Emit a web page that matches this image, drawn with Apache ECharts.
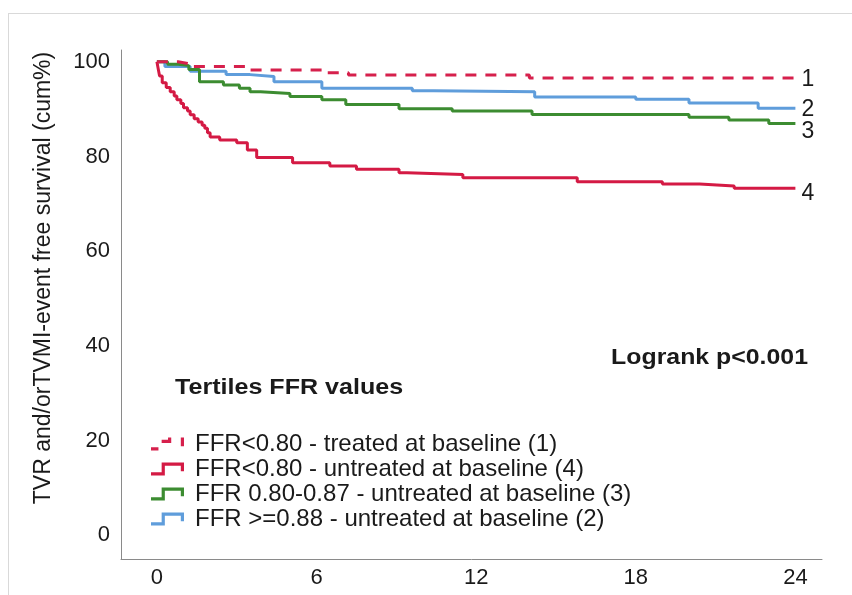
<!DOCTYPE html>
<html>
<head>
<meta charset="utf-8">
<script src="https://cdn.jsdelivr.net/npm/echarts@6/dist/echarts.min.js"></script>
<style>html,body{margin:0;padding:0;background:#fff}#c{width:852px;height:595px}</style>
</head>
<body>
<div id="c"></div>
<script>
// Time in months, survival in cum%
var names = [
  'FFR<0.80 - treated at baseline (1)',
  'FFR<0.80 - untreated at baseline (4)',
  'FFR 0.80-0.87 - untreated at baseline (3)',
  'FFR >=0.88 - untreated at baseline (2)'
];
var endTags = ['1', '4', '3', '2'];
var xTicks = [0, 6, 12, 18, 24];
var yTicks = [0, 20, 40, 60, 80, 100];

var t1 = [0, 0.8, 1.2, 3.5, 6.3, 7.2, 14.0, 24];
var v1 = [100, 99.6, 99.0, 98.3, 97.7, 97.2, 96.6, 96.6];

var t4 = [0, 0.05, 0.1, 0.2, 0.35, 0.5, 0.65, 0.75, 0.9, 1.0, 1.15, 1.25, 1.4, 1.55, 1.7, 1.8, 1.9, 2.0, 2.36, 3.0, 3.4, 3.75, 5.1, 6.5, 7.5, 9.1, 9.4, 11.5, 15.8, 19.0, 20.4, 21.7, 24];
var v4 = [100, 98.5, 97.0, 95.6, 94.6, 93.7, 92.8, 92.0, 91.2, 90.3, 89.6, 88.8, 88.0, 87.3, 86.6, 86.0, 85.0, 84.1, 83.5, 82.9, 81.4, 79.8, 78.7, 78.0, 77.3, 76.6, 76.2, 75.5, 74.7, 74.2, 73.8, 73.3, 73.3];

var t3 = [0, 0.4, 0.8, 1.2, 1.6, 2.5, 3.1, 3.5, 3.9, 5.0, 6.2, 7.1, 9.1, 11.1, 14.1, 20.0, 21.5, 23.0, 24];
var v3 = [100, 99.5, 99.2, 98.4, 95.8, 95.1, 94.4, 93.7, 93.3, 92.7, 92.0, 91.0, 90.1, 89.6, 88.9, 88.3, 87.7, 87.0, 87.0];

var t2 = [0, 0.3, 1.25, 2.6, 3.5, 4.4, 6.2, 9.6, 10.4, 14.2, 18.0, 20.0, 22.6, 24];
var v2 = [100, 99.0, 98.0, 97.3, 96.9, 95.8, 94.4, 93.9, 93.7, 92.6, 92.1, 91.3, 90.2, 90.2];

var colors = ['#d6204c', '#d41a44', '#3c8c31', '#5f9ddb'];

function pairs(t, v) { return t.map(function (x, i) { return [x, v[i]]; }); }
var allT = [t1, t4, t3, t2], allV = [v1, v4, v3, v2];

var FONT = 'Liberation Sans, Arial, sans-serif';
var stepIcon = 'path://M0,10 L10,10 L10,1 L31,1 L31,9 L28,9 L28,4 L13,4 L13,13 L0,13 Z';
var dashIcon = 'path://M0,10 L7,10 L7,13 L0,13 Z M10,3 L16,3 L16,1 L19,1 L19,6 L10,6 Z M28,1 L31,1 L31,9 L28,9 Z M0,1 L0.01,1 L0.01,1.01 Z';

var labelOffsets = [[0, 2], [0, 5], [0, 8], [0, 1]];

var series = names.map(function (n, i) {
  return {
    name: n,
    type: 'line',
    step: 'end',
    showSymbol: false,
    symbol: 'none',
    animation: false,
    data: pairs(allT[i], allV[i]),
    lineStyle: { color: colors[i], width: 3, type: i === 0 ? [11, 9] : 'solid' },
    itemStyle: { color: colors[i] },
    endLabel: {
      show: true, formatter: endTags[i], distance: 6, offset: labelOffsets[i],
      fontFamily: FONT, fontSize: 23, color: '#1a1a1a'
    },
    z: 10 - i
  };
});

var chart = echarts.init(document.getElementById('c'), null, { renderer: 'canvas' });
chart.setOption({
  animation: false,
  backgroundColor: '#fff',
  grid: { left: 121, right: 30, top: 50, bottom: 36 },
  xAxis: {
    type: 'value', min: -1.35, max: 25,
    axisLine: { show: true, onZero: false, lineStyle: { color: '#8a8a8a', width: 1 } },
    axisTick: { show: false },
    splitLine: { show: false },
    axisLabel: { customValues: xTicks, margin: 8, fontFamily: FONT, fontSize: 22, color: '#1a1a1a' }
  },
  yAxis: {
    type: 'value', min: -5, max: 102.5,
    axisLine: { show: true, onZero: false, lineStyle: { color: '#8a8a8a', width: 1 } },
    axisTick: { show: false },
    splitLine: { show: false },
    axisLabel: { customValues: yTicks, margin: 11, fontFamily: FONT, fontSize: 22, color: '#1a1a1a' }
  },
  legend: {
    orient: 'vertical', left: 146, top: 427,
    itemWidth: 33, itemHeight: 14, itemGap: 1,
    textStyle: { fontFamily: FONT, fontSize: 24, color: '#1a1a1a', padding: [0, 0, 0, 6] },
    data: names.map(function (n, i) { return { name: n, icon: i === 0 ? dashIcon : stepIcon }; }),
    selectedMode: false
  },
  graphic: [
    { type: 'line', shape: { x1: 8, y1: 13.5, x2: 852, y2: 13.5 }, style: { stroke: '#d9d9d9', lineWidth: 1 } },
    { type: 'line', shape: { x1: 8.5, y1: 13, x2: 8.5, y2: 595 }, style: { stroke: '#d9d9d9', lineWidth: 1 } },
    { type: 'text', x: 44, y: 278, rotation: Math.PI / 2,
      style: { text: 'TVR and/orTVMI-event free survival (cum%)', fontFamily: FONT, fontSize: 23, fill: '#1a1a1a', textAlign: 'center', textVerticalAlign: 'middle' } },
    { type: 'text', x: 808, y: 358, scaleX: 1.13,
      style: { text: 'Logrank p<0.001', fontFamily: FONT, fontWeight: 'bold', fontSize: 22, fill: '#1a1a1a', textAlign: 'right', textVerticalAlign: 'middle' } },
    { type: 'text', x: 175, y: 388, scaleX: 1.14,
      style: { text: 'Tertiles FFR values', fontFamily: FONT, fontWeight: 'bold', fontSize: 22, fill: '#1a1a1a', textAlign: 'left', textVerticalAlign: 'middle' } }
  ],
  series: series
});
</script>
</body>
</html>
